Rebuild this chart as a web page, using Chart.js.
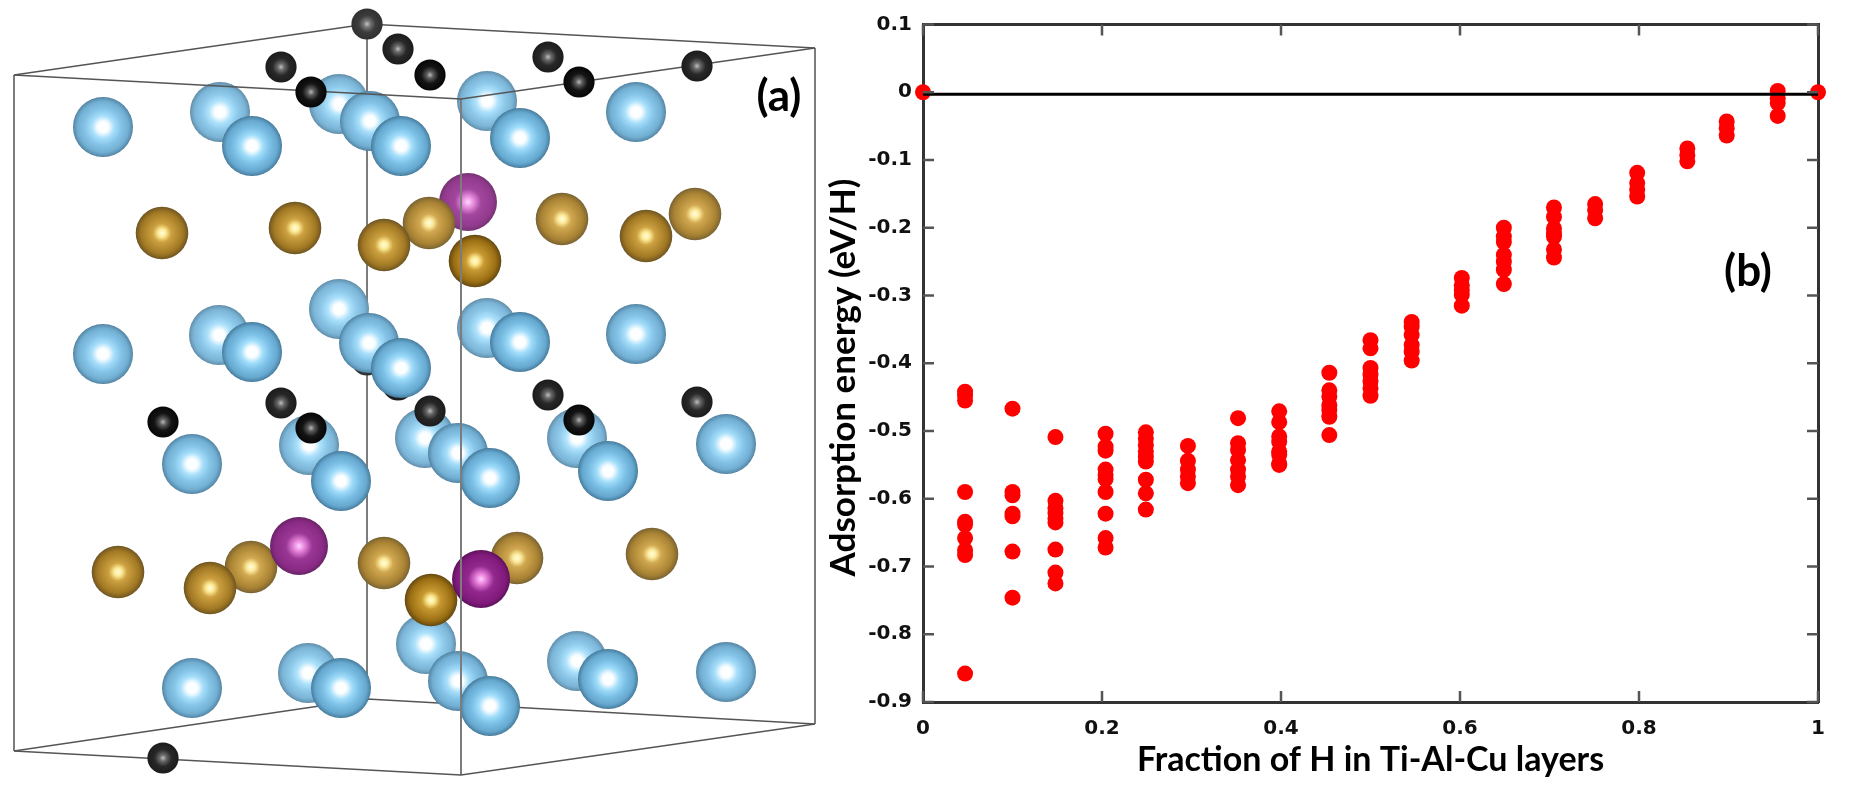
<!DOCTYPE html>
<html>
<head>
<meta charset="utf-8">
<title>H adsorption in Ti-Al-Cu</title>
<script src="https://cdn.jsdelivr.net/npm/chart.js@4"></script>
<style>
  html, body { margin: 0; background: #fff; overflow: hidden; }
  canvas { position: absolute; top: 0; }
  #atoms { left: 0; }
  #energy { left: 800px; }
  .tag { position: absolute; font: bold 44px Lato, sans-serif; color: #000; transform: translate(-50%, -50%); }
</style>
</head>
<body>
<canvas id="atoms" width="830" height="803"></canvas>
<canvas id="energy" width="1051" height="803"></canvas>
<div class="tag" style="left:779px;top:94px">(a)</div>
<div class="tag" style="left:1748px;top:269px">(b)</div>
<script>
// panel (b): adsorption energy per column of H fraction
const fractions = [0, 0.047, 0.1, 0.148, 0.204, 0.249, 0.296, 0.352, 0.398, 0.454, 0.5, 0.546, 0.602, 0.649, 0.705, 0.751, 0.798, 0.854, 0.898, 0.955, 1]
const energies = [
  [0],
  [-0.442, -0.448, -0.455, -0.59, -0.634, -0.638, -0.658, -0.676, -0.683, -0.858],
  [-0.467, -0.59, -0.595, -0.622, -0.626, -0.678, -0.746],
  [-0.509, -0.603, -0.614, -0.621, -0.629, -0.635, -0.675, -0.709, -0.725],
  [-0.504, -0.523, -0.529, -0.557, -0.565, -0.571, -0.59, -0.622, -0.658, -0.672],
  [-0.502, -0.511, -0.521, -0.53, -0.538, -0.545, -0.572, -0.592, -0.616],
  [-0.522, -0.544, -0.557, -0.567, -0.577],
  [-0.481, -0.518, -0.528, -0.543, -0.557, -0.567, -0.58],
  [-0.471, -0.487, -0.508, -0.516, -0.53, -0.535, -0.548, -0.55],
  [-0.414, -0.44, -0.449, -0.462, -0.469, -0.479, -0.506],
  [-0.366, -0.378, -0.407, -0.417, -0.427, -0.437, -0.448],
  [-0.339, -0.346, -0.358, -0.373, -0.383, -0.396],
  [-0.274, -0.285, -0.292, -0.299, -0.315],
  [-0.2, -0.213, -0.221, -0.24, -0.25, -0.262, -0.283],
  [-0.17, -0.184, -0.201, -0.208, -0.213, -0.232, -0.244],
  [-0.165, -0.174, -0.186],
  [-0.119, -0.134, -0.144, -0.154],
  [-0.083, -0.093, -0.102],
  [-0.043, -0.053, -0.064],
  [0.002, -0.009, -0.016, -0.035],
  [0]
]
const xTicks = [0, 0.2, 0.4, 0.6, 0.8, 1]
const yTicks = [0.1, 0, -0.1, -0.2, -0.3, -0.4, -0.5, -0.6, -0.7, -0.8, -0.9]
const zeroLineX = [0, 1]
const zeroLineY = [-0.003, -0.003]
const xTitle = "Fraction of H in Ti-Al-Cu layers"
const yTitle = "Adsorption energy (eV/H)"

// panel (a): atoms in draw order, read in image coordinates. depth 0 is nearest
const atomSpecies = [
  "H", "H",
  "Ti", "Ti", "Ti", "Ti", "Ti", "Ti", "Ti", "Ti", "Ti",
  "Ti", "Ti", "Ti", "Ti", "Ti", "Ti", "Ti", "Ti", "Ti",
  "Ti", "Ti", "Ti", "Ti", "Ti", "Ti", "Ti", "Ti", "Ti",
  "Ti", "Ti", "Ti", "Ti", "Ti", "Ti", "Ti", "Ti", "Ti",
  "Cu", "Al", "Al", "Al", "Al", "Al", "Al", "Al", "Al",
  "Al", "Al", "Al", "Cu", "Al", "Al", "Al", "Al", "Cu"
]
const atomX = [
  367, 398,
  103, 220, 252, 339, 370, 401, 487, 520, 636,
  103, 219, 252, 339, 369, 401, 487, 520, 636,
  192, 309, 341, 425, 458, 490, 577, 608, 726,
  192, 308, 341, 426, 458, 490, 577, 608, 726,
  468, 162, 295, 429, 384, 475, 562, 695, 646,
  118, 251, 210, 299, 384, 517, 652, 431, 481
]
const atomY = [
  360, 385,
  127, 112, 146, 104, 121, 146, 101, 138, 112,
  354, 335, 352, 309, 343, 368, 328, 342, 334,
  464, 445, 481, 438, 453, 478, 438, 471, 444,
  688, 673, 688, 644, 681, 706, 661, 679, 672,
  202, 233, 228, 223, 245, 261, 219, 214, 236,
  572, 567, 588, 546, 563, 558, 554, 600, 579
]
const atomDepth = [
  2, 1,
  1, 2, 0, 2, 1, 0, 2, 0, 1,
  1, 2, 0, 2, 1, 0, 2, 0, 1,
  1, 2, 0, 2, 1, 0, 2, 0, 1,
  1, 2, 0, 2, 1, 0, 2, 0, 1,
  2, 1, 1, 2, 1, 0, 2, 2, 1,
  1, 2, 1, 1, 2, 2, 2, 0, 0
]
const edgeHX = [281, 311, 367, 398, 430, 548, 579, 697, 163, 281, 311, 430, 548, 579, 697, 163]
const edgeHY = [67, 92, 24, 49, 75, 57, 82, 66, 422, 403, 428, 411, 395, 420, 402, 758]
const edgeHDepth = [1, 0, 2, 1, 0, 1, 0, 1, 0, 1, 0, 1, 1, 0, 1, 1]

// cell outline
const backTopX = [14, 367, 815], backTopY = [75, 24, 48]
const backBottomX = [14, 367, 815], backBottomY = [751, 699, 724]
const backPostX = [367, 367], backPostY = [24, 699]
const frontTopX = [14, 461, 815], frontTopY = [75, 99, 48]
const frontBottomX = [14, 461, 815], frontBottomY = [751, 775, 724]
const leftPostX = [14, 14], leftPostY = [75, 751]
const midPostX = [461, 461], midPostY = [99, 775]
const rightPostX = [815, 815], rightPostY = [48, 724]

const radii = { Ti: 30, Al: 26.3, Cu: 29, H: 15.6 }
const shades = {
  Ti: [[0, "#ffffff"], [0.18, "#fbfeff"], [0.38, "#9fdcfa"], [0.6, "#7cc0e6"], [0.85, "#66a8cf"], [0.97, "#4d86a8"], [1, "#3f7091"]],
  Al: [[0, "#fffce0"], [0.15, "#fde98f"], [0.35, "#c99a33"], [0.8, "#9a6e12"], [0.96, "#6f5011"], [1, "#5c430f"]],
  Cu: [[0, "#ffd0ff"], [0.18, "#e880dc"], [0.45, "#93288e"], [0.85, "#7f1a7a"], [1, "#5d1259"]],
  H: [[0, "#b8b8b8"], [0.22, "#5a5a5a"], [0.55, "#141414"], [1, "#060606"]]
}

function fog(hex, amount) {
  const n = parseInt(hex.slice(1), 16)
  const mix = c => Math.round(c + (255 - c) * amount)
  return `rgb(${mix(n >> 16)},${mix((n >> 8) & 255)},${mix(n & 255)})`
}

function sphere(chart, x, y, species, depth) {
  const px = chart.scales.x.getPixelForValue(x)
  const py = chart.scales.y.getPixelForValue(y)
  // chart.js also asks for the colour before the scales are laid out
  if (!Number.isFinite(px) || !Number.isFinite(py)) return "#000"
  const g = chart.ctx.createRadialGradient(px, py, 0, px, py, radii[species])
  const amount = depth * (species === "H" ? 0.085 : 0.07)
  shades[species].forEach(s => g.addColorStop(s[0], fog(s[1], amount)))
  return g
}

const pts = (xs, ys) => xs.map((x, i) => ({ x, y: ys[i] }))
const edge = (xs, ys, color, width) => ({
  data: pts(xs, ys), showLine: true, pointRadius: 0, borderColor: color, borderWidth: width, clip: false
})

new Chart(document.getElementById("atoms"), {
  type: "scatter",
  data: {
    datasets: [
      { ...edge(backTopX, backTopY, "#555", 1.4), order: 9 },
      { ...edge(backBottomX, backBottomY, "#555", 1.4), order: 9 },
      { ...edge(backPostX, backPostY, "#7c7c7c", 2), order: 9 },
      {
        data: pts(atomX, atomY), order: 5, clip: false, pointBorderWidth: 0,
        pointRadius: c => radii[atomSpecies[c.dataIndex]] || 0,
        pointBackgroundColor: c => c.dataIndex === undefined ? "#000" :
          sphere(c.chart, atomX[c.dataIndex], atomY[c.dataIndex], atomSpecies[c.dataIndex], atomDepth[c.dataIndex])
      },
      { ...edge(frontTopX, frontTopY, "#555", 1.4), order: 3 },
      { ...edge(frontBottomX, frontBottomY, "#555", 1.4), order: 3 },
      { ...edge(leftPostX, leftPostY, "#7c7c7c", 2), order: 3 },
      { ...edge(midPostX, midPostY, "#7c7c7c", 2), order: 3 },
      { ...edge(rightPostX, rightPostY, "#7c7c7c", 2), order: 3 },
      {
        data: pts(edgeHX, edgeHY), order: 1, clip: false, pointBorderWidth: 0,
        pointRadius: radii.H,
        pointBackgroundColor: c => c.dataIndex === undefined ? "#000" :
          sphere(c.chart, edgeHX[c.dataIndex], edgeHY[c.dataIndex], "H", edgeHDepth[c.dataIndex])
      }
    ]
  },
  options: {
    responsive: false,
    animation: false,
    layout: { padding: 0, autoPadding: false },
    plugins: { legend: { display: false }, tooltip: { enabled: false } },
    scales: {
      x: { display: false, min: 0, max: 830 },
      y: { display: false, min: 0, max: 803, reverse: true }
    }
  }
})

// y title sits lower than the middle of the axis, so it is drawn by hand
const yTitlePlugin = {
  id: "yTitle",
  afterDraw(chart) {
    const c = chart.ctx
    c.save()
    c.translate(44.5, 377.5)
    c.rotate(-Math.PI / 2)
    c.scale(1.03, 1)
    c.font = "bold 34px Lato"
    c.fillStyle = "#000"
    c.textAlign = "center"
    c.textBaseline = "middle"
    c.fillText(yTitle, 0, 0)
    c.restore()
  }
}

// inward ticks on all four sides
const innerTicks = {
  id: "innerTicks",
  afterDraw(chart) {
    const c = chart.ctx, a = chart.chartArea, len = 11
    c.save()
    c.strokeStyle = "#555"
    c.lineWidth = 2.5
    c.beginPath()
    xTicks.forEach(v => {
      const px = chart.scales.x.getPixelForValue(v)
      c.moveTo(px, a.top); c.lineTo(px, a.top + len)
      c.moveTo(px, a.bottom); c.lineTo(px, a.bottom - len)
    })
    yTicks.forEach(v => {
      const py = chart.scales.y.getPixelForValue(v)
      c.moveTo(a.left, py); c.lineTo(a.left + len, py)
      c.moveTo(a.right, py); c.lineTo(a.right - len, py)
    })
    c.stroke()
    c.restore()
  }
}

const noGrid = { display: false, drawTicks: false }
const frame = { color: "#333", width: 3 }
const tickFont = { family: "DejaVu Sans", weight: "bold", size: 20 }
const showTick = v => String(Math.round(v * 10) / 10)

new Chart(document.getElementById("energy"), {
  type: "scatter",
  data: {
    datasets: [
      {
        data: pts(zeroLineX, zeroLineY), showLine: true, pointRadius: 0,
        borderColor: "#000", borderWidth: 3, order: 1
      },
      {
        data: fractions.flatMap((f, i) => energies[i].map(e => ({ x: f, y: e }))),
        pointRadius: 8, pointBackgroundColor: "#ff0000", pointBorderWidth: 0, clip: false, order: 2
      }
    ]
  },
  plugins: [yTitlePlugin, innerTicks],
  options: {
    responsive: false,
    animation: false,
    layout: { padding: { top: 24.5, right: 33, left: 0, bottom: 0 }, autoPadding: false },
    plugins: { legend: { display: false }, tooltip: { enabled: false } },
    scales: {
      x: {
        position: "bottom", min: 0, max: 1,
        afterFit: s => { s.height = 101 },
        afterBuildTicks: s => { s.ticks = xTicks.map(value => ({ value })) },
        grid: noGrid, border: frame,
        ticks: { font: tickFont, color: "#111", padding: 15, callback: showTick, maxRotation: 0, autoSkip: false },
        title: { display: true, text: xTitle, color: "#000", font: { family: "Lato", weight: "bold", size: 34 }, padding: { top: 0, bottom: 23 } }
      },
      y: {
        position: "left", min: -0.9, max: 0.1,
        afterFit: s => { s.width = 123 },
        afterBuildTicks: s => { s.ticks = yTicks.map(value => ({ value })) },
        grid: noGrid, border: frame,
        ticks: { font: tickFont, color: "#111", padding: 11, callback: showTick, autoSkip: false }
      },
      xTop: {
        position: "top", min: 0, max: 1,
        afterFit: s => { s.height = 0 },
        grid: noGrid, border: frame, ticks: { display: false }
      },
      yRight: {
        position: "right", min: -0.9, max: 0.1,
        afterFit: s => { s.width = 0 },
        grid: noGrid, border: frame, ticks: { display: false }
      }
    }
  }
})
</script>
</body>
</html>
